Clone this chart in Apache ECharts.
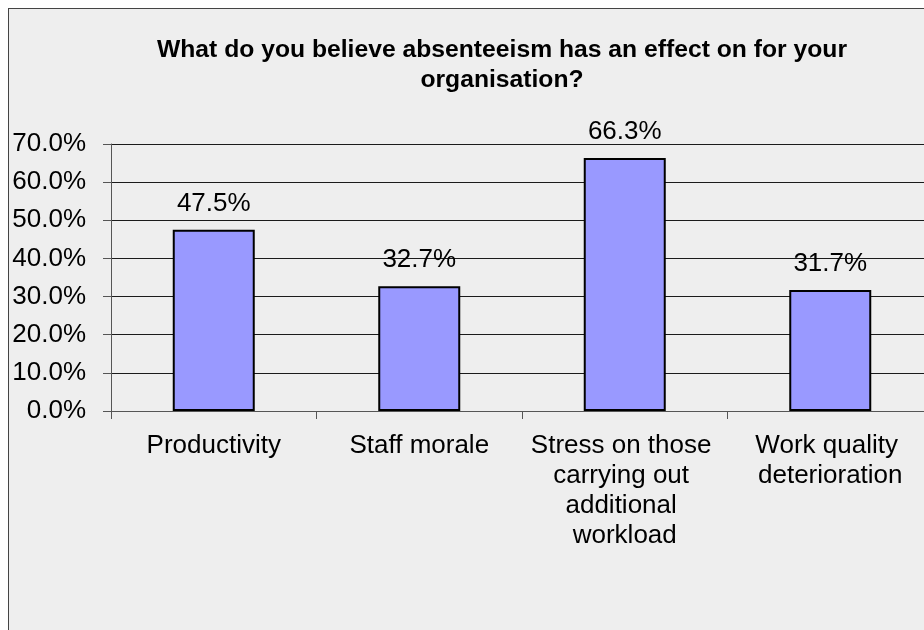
<!DOCTYPE html>
<html>
<head>
<meta charset="utf-8">
<script src="https://cdn.jsdelivr.net/npm/echarts@6/dist/echarts.min.js"></script>
<style>
  html, body { margin: 0; padding: 0; background: #ffffff; overflow: hidden; width: 924px; height: 630px; }
  #frame {
    position: absolute; left: 8px; top: 8px; width: 940px; height: 640px;
    background: #eeeeee; border-left: 1px solid #444444; border-top: 1px solid #444444;
  }
  /* drawing surface is a little wider than the window; the plot runs past the right edge */
  #chart { position: absolute; left: 0; top: 0; width: 944px; height: 630px; }
</style>
</head>
<body>
<div id="frame"></div>
<div id="chart"></div>
<script>
// Survey answers: share of respondents per effect of absenteeism
const categories = [
  'Productivity',
  'Staff morale',
  'Stress on those carrying out additional workload',
  'Work quality deterioration'
];
const values = [47.5, 32.7, 66.3, 31.7];
const titleText = 'What do you believe absenteeism has an effect on for your\norganisation?';
const yMin = 0, yMax = 70, yStep = 10;

const font = '"Liberation Sans", Arial, sans-serif';
const chart = echarts.init(document.getElementById('chart'), null, { renderer: 'canvas' });

chart.setOption({
  backgroundColor: 'transparent',
  animation: false,
  title: {
    text: titleText,
    left: 497,
    top: 30,
    textAlign: 'center',
    textStyle: {
      fontFamily: font, fontSize: 24.7, fontWeight: 'bold', color: '#000000', lineHeight: 30
    }
  },
  grid: { left: 111, top: 144, width: 822, bottom: 219, containLabel: false },
  xAxis: {
    type: 'category',
    data: categories,
    axisLine: { show: true, lineStyle: { color: '#555555', width: 1 } },
    axisTick: { show: true, alignWithLabel: false, length: 8, lineStyle: { color: '#555555' } },
    axisLabel: {
      interval: 0,
      margin: 20,
      color: '#000000',
      fontFamily: font,
      fontSize: 26,
      lineHeight: 30,
      width: 196,
      overflow: 'break',
      align: 'center'
    },
    splitLine: { show: false }
  },
  yAxis: {
    type: 'value',
    min: yMin, max: yMax, interval: yStep,
    axisLine: { show: true, lineStyle: { color: '#555555', width: 1 } },
    axisTick: { show: true, length: 8, lineStyle: { color: '#555555' } },
    axisLabel: {
      margin: 25,
      color: '#000000',
      fontFamily: font,
      fontSize: 26,
      formatter: v => v.toFixed(1) + '%'
    },
    splitLine: { show: true, lineStyle: { color: '#1a1a1a', width: 1 } }
  },
  series: [{
    type: 'bar',
    data: values,
    barWidth: 82,
    itemStyle: { color: '#9999ff', borderColor: '#000000', borderWidth: 2 },
    label: {
      show: true,
      position: 'top',
      distance: 13,
      color: '#000000',
      fontFamily: font,
      fontSize: 26,
      formatter: p => p.value.toFixed(1) + '%'
    }
  }]
});
</script>
</body>
</html>
